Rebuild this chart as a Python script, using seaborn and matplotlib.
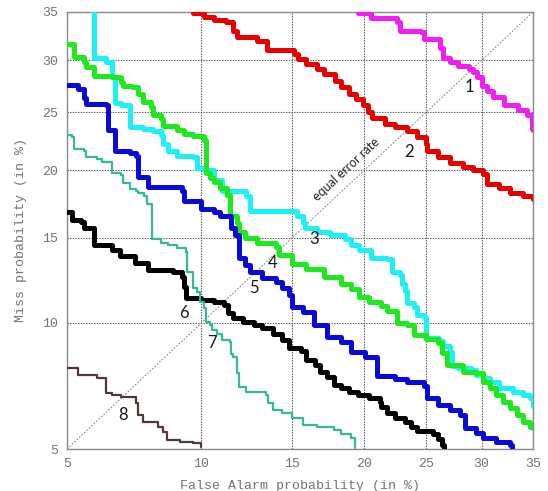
import math
import numpy as np
import matplotlib
matplotlib.use("Agg")
import matplotlib.pyplot as plt
import seaborn as sns

# ─── Data (percent) ─────────────────────────────────────────────────────────
TICKS = [5, 10, 15, 20, 25, 30, 35]

c1_fa   = [19.5, 20.5, 22.6, 22.8, 24.6, 24.8, 26.2, 26.5, 27.1, 27.8, 28.8, 29.2, 29.6, 30.0, 30.5, 31.1, 32.1, 33.5, 34.4, 34.9, 35.0]
c1_miss = [34.9, 34.4, 33.9, 33.0, 32.9, 32.2, 31.2, 30.2, 29.8, 29.4, 29.1, 28.8, 28.3, 27.5, 27.0, 26.4, 25.7, 25.2, 24.8, 23.5, 23.4]

c2_fa   = [9.6, 10.1, 10.6, 11.2, 11.6, 11.8, 12.9, 13.5, 15.1, 15.4, 15.9, 16.6, 17.1, 17.9, 18.3, 18.9, 19.4, 19.9, 20.3, 20.6,
           21.6, 22.4, 23.4, 24.2, 25.0, 25.1, 26.0, 27.1, 28.3, 29.2, 30.1, 30.5, 31.7, 32.7, 34.0, 35.0]
c2_miss = [34.9, 34.5, 34.2, 33.9, 33.0, 32.4, 32.0, 31.0, 30.6, 30.1, 29.6, 29.1, 28.6, 28.0, 27.4, 26.7, 26.2, 25.7, 25.0, 24.5,
           23.9, 23.7, 23.3, 22.8, 22.2, 21.6, 21.1, 20.6, 20.3, 20.0, 19.7, 18.9, 18.6, 18.2, 18.0, 17.8]

c3_fa   = [5.8, 5.8, 6.2, 6.4, 6.5, 6.7, 7.0, 7.0, 7.5, 7.9, 8.2, 8.3, 8.5, 8.9, 9.6, 9.8, 10.1, 10.6, 10.6, 11.0,
           11.6, 12.3, 12.5, 15.0, 15.3, 15.7, 15.8, 16.6, 17.5, 18.6, 19.0, 19.6, 20.5, 21.8, 22.2, 22.8, 23.0, 23.2, 23.4, 24.0,
           24.2, 24.8, 25.0, 25.0, 26.1, 26.5, 27.1, 27.3, 27.8, 29.0, 29.5, 30.1, 30.8, 31.7, 33.0, 34.0, 34.7, 35.0]
c3_miss = [35.0, 30.2, 29.8, 28.3, 25.9, 25.7, 25.2, 23.7, 23.5, 23.3, 23.0, 22.2, 21.6, 21.2, 21.1, 20.2, 20.0, 19.9, 19.2, 18.4,
           18.4, 18.0, 16.9, 16.9, 16.5, 16.0, 15.7, 15.4, 15.2, 14.9, 14.5, 14.2, 13.7, 13.6, 12.8, 12.65, 12.1, 11.7, 11.05, 10.85,
           10.4, 10.3, 9.9, 9.26, 9.1, 8.9, 8.6, 8.0, 7.92, 7.83, 7.6, 7.5, 7.33, 7.1, 6.95, 6.83, 6.7, 6.4]

c4_fa   = [5.0, 5.2, 5.5, 5.55, 5.8, 6.4, 6.7, 6.75, 7.1, 7.3, 7.5, 7.8, 7.9, 8.2, 8.3, 8.9, 9.2, 9.6, 10.1, 10.2,
           10.4, 10.6, 10.9, 11.25, 11.4, 11.8, 11.9, 12.2, 12.9, 14.0, 14.2, 15.0, 15.9, 17.1, 18.3, 19.0, 19.6, 20.4, 21.3, 21.8,
           22.6, 23.4, 24.0, 25.0, 26.0, 26.4, 26.8, 28.3, 29.5, 30.1, 30.8, 31.4, 32.0, 32.7, 33.4, 34.0, 34.7, 35.0]
c4_miss = [31.6, 30.3, 29.85, 29.3, 28.4, 28.3, 27.9, 27.5, 27.4, 26.7, 26.0, 25.5, 24.8, 24.4, 23.8, 23.4, 23.1, 22.9, 22.5, 19.8,
           19.4, 19.1, 18.6, 18.1, 16.5, 16.0, 15.4, 15.0, 14.65, 14.4, 13.9, 13.3, 13.0, 12.5, 12.1, 11.8, 11.4, 11.1, 10.9, 10.6,
           10.0, 9.9, 9.4, 9.2, 9.03, 8.56, 8.03, 7.74, 7.7, 7.33, 7.09, 6.83, 6.57, 6.35, 6.1, 5.86, 5.69, 5.66]

c5_fa   = [5.0, 5.3, 5.5, 5.55, 6.2, 6.25, 6.5, 6.5, 7.0, 7.25, 7.3, 7.7, 7.7, 9.1, 9.2, 10.0, 10.6, 10.9, 11.5, 11.7,
           11.9, 12.2, 12.5, 13.2, 14.0, 14.4, 14.8, 15.0, 15.7, 16.4, 17.3, 18.3, 19.0, 20.1, 21.0, 21.0, 22.4, 23.4, 24.8, 25.1,
           26.0, 27.1, 28.0, 28.5, 29.5, 30.1, 31.4, 32.7, 32.9]
c5_miss = [27.6, 27.2, 26.3, 25.8, 25.7, 23.4, 23.0, 21.6, 21.4, 21.2, 19.5, 19.1, 18.7, 18.4, 17.6, 17.05, 16.8, 16.5, 15.7, 15.2,
           13.7, 13.26, 12.8, 12.47, 12.25, 11.9, 11.5, 10.84, 10.57, 9.9, 9.3, 9.07, 8.61, 8.4, 8.27, 7.58, 7.46, 7.33, 7.17, 6.71,
           6.45, 6.27, 6.1, 5.66, 5.5, 5.34, 5.22, 5.13, 5.03]

c6_fa   = [5.0, 5.15, 5.4, 5.5, 5.8, 6.4, 6.65, 7.2, 7.7, 8.7, 9.1, 9.2, 9.3, 10.0, 10.6, 11.1, 11.3, 11.6, 12.1, 12.7,
           13.2, 13.8, 14.4, 14.8, 15.6, 15.9, 16.5, 16.8, 17.3, 17.8, 18.3, 18.9, 19.5, 20.4, 21.2, 21.3, 21.8, 22.4, 23.2, 23.7,
           24.2, 25.6, 26.0, 26.4, 26.6]
c6_miss = [16.8, 16.25, 16.1, 15.7, 14.5, 14.2, 13.8, 13.4, 12.96, 12.8, 12.5, 11.95, 11.3, 11.2, 11.1, 10.93, 10.5, 10.25, 10.05, 9.9,
           9.76, 9.46, 9.18, 8.77, 8.65, 8.27, 8.03, 7.74, 7.54, 7.22, 7.1, 6.95, 6.83, 6.71, 6.57, 6.38, 6.17, 6.0, 5.84, 5.7,
           5.55, 5.47, 5.3, 5.13, 5.03]

c7_fa   = [5.0, 5.15, 5.2, 5.5, 5.55, 5.9, 6.05, 6.4, 6.4, 6.7, 6.75, 7.0, 7.0, 7.25, 7.3, 7.55, 7.65, 7.85, 7.85, 8.2,
           8.5, 8.9, 9.3, 9.35, 9.6, 9.6, 9.8, 9.95, 10.1, 10.2, 10.4, 10.5, 10.75, 11.0, 11.4, 11.5, 11.6, 11.8, 11.9, 12.3,
           13.4, 13.55, 13.8, 14.4, 15.0, 15.7, 16.6, 17.8, 18.3, 19.0, 19.3]
c7_miss = [23.0, 22.8, 21.8, 21.6, 21.1, 20.9, 20.7, 20.5, 19.8, 19.65, 19.0, 18.9, 18.5, 18.4, 18.2, 18.0, 17.4, 16.9, 14.9, 14.65,
           14.5, 14.35, 14.07, 12.8, 12.8, 11.9, 11.66, 11.1, 10.8, 10.05, 9.9, 9.65, 9.46, 9.18, 9.07, 8.5, 8.4, 7.7, 7.13, 6.95,
           6.83, 6.53, 6.27, 6.17, 6.0, 5.77, 5.7, 5.6, 5.45, 5.34, 5.03]

c8_fa   = [5.0, 5.3, 5.9, 6.2, 6.4, 6.7, 7.25, 7.3, 7.5, 8.1, 8.3, 8.45, 9.0, 9.6, 10.0]
c8_miss = [7.92, 7.6, 7.5, 6.9, 6.83, 6.75, 6.54, 6.1, 5.86, 5.7, 5.52, 5.27, 5.2, 5.17, 5.05]

CURVES = [
    (c1_fa, c1_miss, "#f01ef0", 3.6),
    (c2_fa, c2_miss, "#e80000", 3.6),
    (c3_fa, c3_miss, "#1ef0f8", 3.6),
    (c4_fa, c4_miss, "#1ee81e", 3.6),
    (c5_fa, c5_miss, "#0a0ad8", 3.6),
    (c6_fa, c6_miss, "#000000", 3.6),
    (c7_fa, c7_miss, "#36b898", 1.6),
    (c8_fa, c8_miss, "#553636", 1.6),
]

LABELS   = ["1", "2", "3", "4", "5", "6", "7", "8"]
LABEL_FA = [28.9, 23.6, 16.4, 13.8, 12.7, 9.2, 10.5, 6.75]
LABEL_MS = [27.4, 21.5, 14.9, 13.4, 11.9, 10.5, 9.03, 6.1]

# ─── Normal deviate (probit) scale ──────────────────────────────────────────
_erf = np.vectorize(math.erf)
Z_GRID = np.linspace(-7, 7, 6001)
P_GRID = 0.5 * (1 + _erf(Z_GRID / math.sqrt(2)))


def to_dev(p):
    p = np.clip(np.asarray(p, dtype=float) / 100.0, 1e-10, 1 - 1e-10)
    return np.interp(p, P_GRID, Z_GRID)


def from_dev(z):
    return 100.0 * 0.5 * (1 + _erf(np.asarray(z, dtype=float) / math.sqrt(2)))


# ─── Plot ───────────────────────────────────────────────────────────────────
sns.set_style("white")
TICK_FONT = dict(family="Liberation Mono", size=9.5, color="#737373")

fig = plt.figure(figsize=(5.48, 4.91), dpi=100)
ax = fig.add_axes([67 / 548, 1 - 449 / 491, 466 / 548, 437 / 491])

ax.set_xscale("function", functions=(to_dev, from_dev))
ax.set_yscale("function", functions=(to_dev, from_dev))
ax.set_xlim(5, 35)
ax.set_ylim(5, 35)

ax.set_xticks(TICKS)
ax.set_yticks(TICKS)
ax.set_xticklabels([str(t) for t in TICKS], fontdict=TICK_FONT)
ax.set_yticklabels([str(t) for t in TICKS], fontdict=TICK_FONT)
ax.minorticks_off()
ax.tick_params(length=0, pad=6.5)
ax.grid(True, linestyle=(0, (1.2, 1.2)), color="#555555", linewidth=0.8)
for sp in ax.spines.values():
    sp.set_edgecolor("#8a8a8a")
    sp.set_linewidth(1.0)

# equal error rate diagonal
ax.plot([5, 35], [5, 35], linestyle=(0, (1.5, 1.5)), color="#8c8c8c", linewidth=0.8, zorder=1)
ax.text(18.7, 20.1, "equal error rate", rotation=43, rotation_mode="anchor",
        ha="center", va="center", fontsize=9, family="Lato", color="#222222")

for fa, miss, col, lw in CURVES:
    sns.lineplot(x=fa, y=miss, ax=ax, color=col, linewidth=lw, estimator=None,
                 sort=False, drawstyle="steps-post", zorder=3)

for lab, x, y in zip(LABELS, LABEL_FA, LABEL_MS):
    ax.text(x, y, lab, ha="center", va="center", fontsize=12, family="Lato",
            color="#1a1a1a", zorder=4)

ax.set_xlabel("False Alarm probability (in %)", fontdict=TICK_FONT, labelpad=7)
ax.set_ylabel("Miss probability (in %)", fontdict=TICK_FONT, labelpad=11)

fig.savefig("out.png", dpi=100, facecolor="white")
plt.close(fig)
